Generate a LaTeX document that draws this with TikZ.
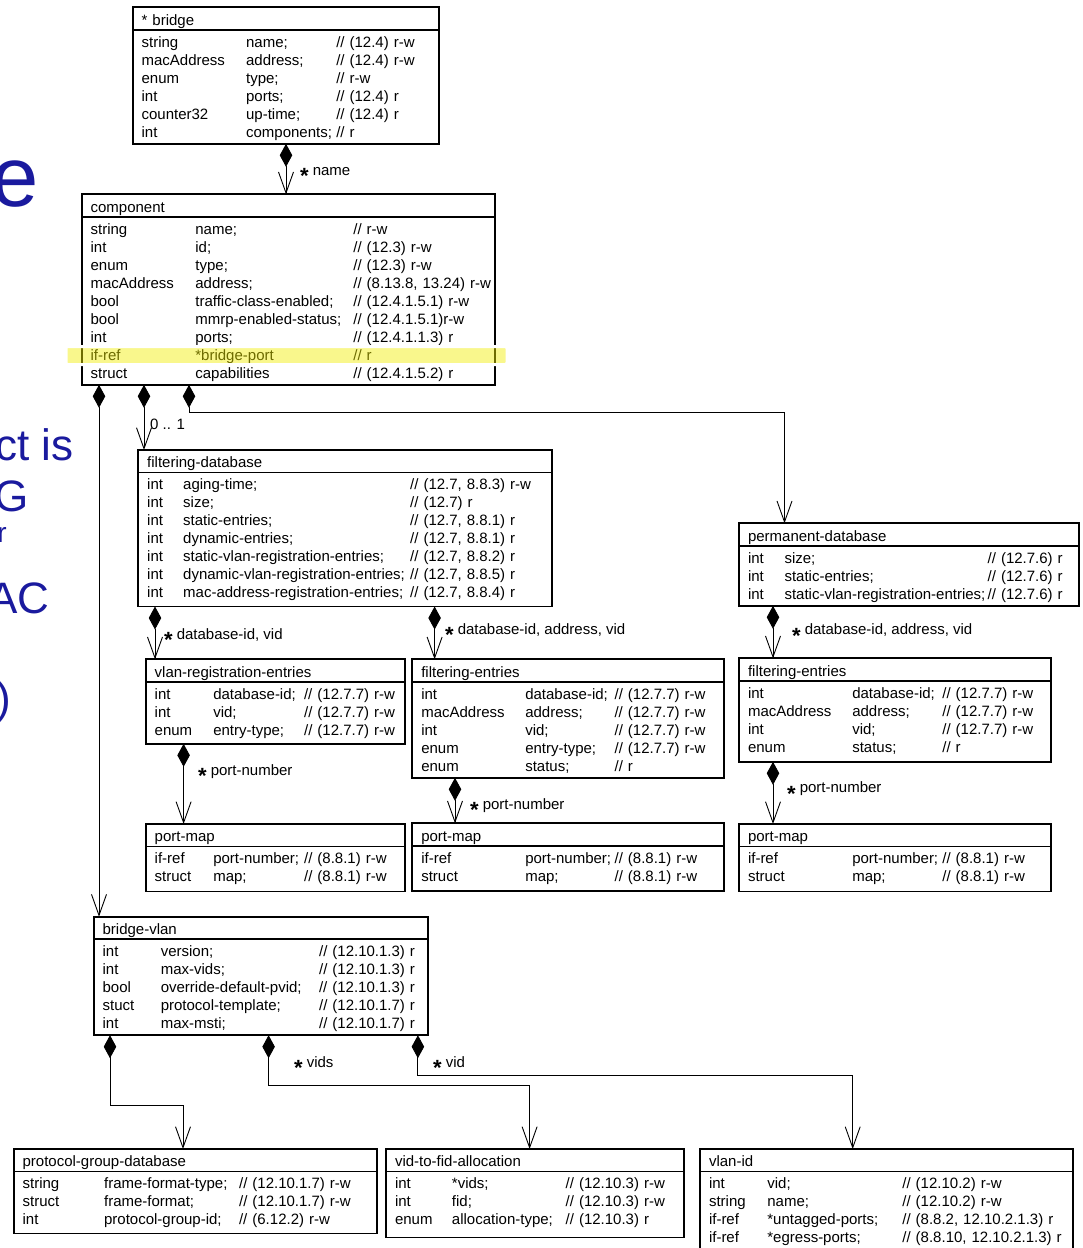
\documentclass[tikz,border=0pt]{standalone}
\usepackage{fontspec}
\setmainfont{Liberation Sans}
\usepackage{array}
\usetikzlibrary{arrows.meta, positioning}
\definecolor{slideblue}{HTML}{1A1A9E}
\definecolor{hlyellow}{HTML}{F2EE00}
\newcommand{\fieldtab}[3]{{\hyphenpenalty=10000\exhyphenpenalty=10000%
  \begin{tabular}[t]{@{}p{#1}@{}p{#2}@{}l@{}}#3\end{tabular}}}
\newcommand{\st}{\raisebox{-8.8pt}{\fontsize{22}{22}\selectfont\bfseries *}\hspace{4pt}}
\tikzset{
  hdr/.style   ={rectangle, draw, fill=white, line width=1.8pt, outer sep=0pt,
                 anchor=north west, minimum height=22.5pt, inner xsep=9pt, inner ysep=0pt,
                 text height=14pt, text depth=0.6pt, align=left, font=\fontsize{15}{18}\selectfont},
  body/.style  ={rectangle, draw, fill=white, line width=1.8pt, outer sep=0pt,
                 inner xsep=9pt, inner ysep=1.3pt, text height=16pt,
                 align=left, font=\fontsize{15}{18}\selectfont},
  comp/.style  ={{Diamond[length=23pt,width=12.5pt]}-{Straight Barb[length=21pt,width=15pt]},
                 line width=0.9pt},
  lbl/.style   ={anchor=base west, inner sep=0pt, font=\fontsize{15}{18}\selectfont},
  slide/.style ={anchor=base east, inner sep=0pt, text=slideblue, font=\fontsize{44}{48}\selectfont},
  hilite/.style={draw=white, line width=3pt, fill=hlyellow, fill opacity=0.45, rounded corners=2pt},
}
\begin{document}
\begin{tikzpicture}[x=1pt, y=-1pt]
  \fill[white] (0,0) rectangle (1083,1248);
  \useasboundingbox (0,0) rectangle (1083,1248);

  \node[slide, font=\fontsize{85}{90}\selectfont] (ttl) at (39,206.5) {e};
  \node[slide] (s1) at (73.5,460) {ct is};
  \node[slide] (s2) at (28.5,511.5) {G};
  \node[slide, font=\fontsize{28}{30}\selectfont] (s3) at (7,542) {r};
  \node[slide] (s4) at (49.5,613.3) {AC};
  \node[slide] (s5) at (11,713) {)};

  \node[hdr, text width=288.4pt] (brh) at (132.6,7.3) {* bridge};
  \node[body, text width=288.4pt, below=0pt of brh] (brb) {\fieldtab{104.5pt}{90.2pt}{%
    string & name; & // (12.4) r-w\\
    macAddress & address; & // (12.4) r-w\\
    enum & type; & // r-w\\
    int & ports; & // (12.4) r\\
    counter32 & up-time; & // (12.4) r\\
    int & components; & // r}};

  \node[hdr, text width=395.6pt] (cmh) at (81.6,194.3) {component};
  \node[body, text width=395.6pt, below=0pt of cmh] (cmb) {\fieldtab{104.8pt}{158pt}{%
    string & name; & // r-w\\
    int & id; & // (12.3) r-w\\
    enum & type; & // (12.3) r-w\\
    macAddress & address; & // (8.13.8, 13.24) r-w\\
    bool & traffic-class-enabled; & // (12.4.1.5.1) r-w\\
    bool & mmrp-enabled-status; & // (12.4.1.5.1)r-w\\
    int & ports; & // (12.4.1.1.3) r\\
    if-ref & *bridge-port & // r\\
    struct & capabilities & // (12.4.1.5.2) r}};

  \node[hdr, text width=395.8pt] (fdh) at (138.2,450) {filtering-database};
  \node[body, text width=395.8pt, below=0pt of fdh] (fdb) {\fieldtab{36pt}{227pt}{%
    int & aging-time; & // (12.7, 8.8.3) r-w\\
    int & size; & // (12.7) r\\
    int & static-entries; & // (12.7, 8.8.1) r\\
    int & dynamic-entries; & // (12.7, 8.8.1) r\\
    int & static-vlan-registration-entries; & // (12.7, 8.8.2) r\\
    int & dynamic-vlan-registration-entries; & // (12.7, 8.8.5) r\\
    int & mac-address-registration-entries; & // (12.7, 8.8.4) r\\[2pt]}};

  \node[hdr, text width=322pt] (pdh) at (739,523.3) {permanent-database};
  \node[body, text width=322pt, below=0pt of pdh] (pdb) {\fieldtab{36.5pt}{203.2pt}{%
    int & size; & // (12.7.6) r\\
    int & static-entries; & // (12.7.6) r\\
    int & static-vlan-registration-entries; & // (12.7.6) r}};

  \node[hdr, text width=241pt] (vrh) at (145.7,659.3) {vlan-registration-entries};
  \node[body, text width=241pt, below=0pt of vrh] (vrb) {\fieldtab{58.6pt}{90.8pt}{%
    int & database-id; & // (12.7.7) r-w\\
    int & vid; & // (12.7.7) r-w\\
    enum & entry-type; & // (12.7.7) r-w\\[2pt]}};

  \node[hdr, text width=293.7pt] (femh) at (412.3,659.3) {filtering-entries};
  \node[body, text width=293.7pt, below=0pt of femh] (femb) {\fieldtab{104pt}{89.3pt}{%
    int & database-id; & // (12.7.7) r-w\\
    macAddress & address; & // (12.7.7) r-w\\
    int & vid; & // (12.7.7) r-w\\
    enum & entry-type; & // (12.7.7) r-w\\
    enum & status; & // r}};

  \node[hdr, text width=294pt] (ferh) at (739,658.3) {filtering-entries};
  \node[body, text width=294pt, below=0pt of ferh] (ferb) {\fieldtab{104.3pt}{90.1pt}{%
    int & database-id; & // (12.7.7) r-w\\
    macAddress & address; & // (12.7.7) r-w\\
    int & vid; & // (12.7.7) r-w\\
    enum & status; & // r\\[3pt]}};

  \node[hdr, text width=241pt] (pmlh) at (145.7,824) {port-map};
  \node[body, text width=241pt, below=0pt of pmlh] (pmlb) {\fieldtab{58.6pt}{90.8pt}{%
    if-ref & port-number; & // (8.8.1) r-w\\
    struct & map; & // (8.8.1) r-w\\[3pt]}};

  \node[hdr, text width=293.7pt] (pmmh) at (412.3,823.3) {port-map};
  \node[body, text width=293.7pt, below=0pt of pmmh] (pmmb) {\fieldtab{104pt}{89.3pt}{%
    if-ref & port-number; & // (8.8.1) r-w\\
    struct & map; & // (8.8.1) r-w\\[3pt]}};

  \node[hdr, text width=294pt] (pmrh) at (739,824) {port-map};
  \node[body, text width=294pt, below=0pt of pmrh] (pmrb) {\fieldtab{104.3pt}{90.1pt}{%
    if-ref & port-number; & // (8.8.1) r-w\\
    struct & map; & // (8.8.1) r-w\\[3pt]}};

  \node[hdr, text width=316pt] (bvh) at (93.6,916.7) {bridge-vlan};
  \node[body, text width=316pt, below=0pt of bvh] (bvb) {\fieldtab{58.2pt}{158.3pt}{%
    int & version; & // (12.10.1.3) r\\
    int & max-vids; & // (12.10.1.3) r\\
    bool & override-default-pvid; & // (12.10.1.3) r\\
    stuct & protocol-template; & // (12.10.1.7) r\\
    int & max-msti; & // (12.10.1.7) r}};

  \node[hdr, text width=345.2pt] (pgh) at (13.6,1149) {protocol-group-database};
  \node[body, text width=345.2pt, below=0pt of pgh] (pgb) {\fieldtab{81.5pt}{135pt}{%
    string & frame-format-type; & // (12.10.1.7) r-w\\
    struct & frame-format; & // (12.10.1.7) r-w\\
    int & protocol-group-id; & // (6.12.2) r-w\\[2pt]}};

  \node[hdr, text width=279.7pt] (vfh) at (386,1149) {vid-to-fid-allocation};
  \node[body, text width=279.7pt, below=0pt of vfh] (vfb) {\fieldtab{57pt}{113.7pt}{%
    int & *vids; & // (12.10.3) r-w\\
    int & fid; & // (12.10.3) r-w\\
    enum & allocation-type; & // (12.10.3) r\\[6pt]}};

  \node[hdr, text width=355pt] (vih) at (700,1149) {vlan-id};
  \node[body, text width=355pt, below=0pt of vih] (vib) {\fieldtab{58.4pt}{135pt}{%
    int & vid; & // (12.10.2) r-w\\
    string & name; & // (12.10.2) r-w\\
    if-ref & *untagged-ports; & // (8.8.2, 12.10.2.1.3) r\\
    if-ref & *egress-ports; & // (8.8.10, 12.10.2.1.3) r}};

  \coordinate (c1) at ([xshift=153.4pt]brb.south west);
  \coordinate (c2) at ([xshift=17.4pt]cmb.south west);
  \coordinate (c3) at ([xshift=62.4pt]cmb.south west);
  \coordinate (c4) at ([xshift=107.4pt]cmb.south west);
  \coordinate (t4) at ([xshift=45.5pt]pdh.north west);
  \coordinate (c5) at ([xshift=16.8pt]fdb.south west);
  \coordinate (c6) at ([xshift=296.4pt]fdb.south west);
  \coordinate (c7) at ([xshift=34pt]pdb.south west);
  \coordinate (c8) at ([xshift=37.9pt]vrb.south west);
  \coordinate (c9) at ([xshift=42.7pt]femb.south west);
  \coordinate (c10) at ([xshift=34pt]ferb.south west);
  \coordinate (c11) at ([xshift=16.4pt]bvb.south west);
  \coordinate (t11) at ([xshift=169.4pt]pgh.north west);
  \coordinate (c12) at ([xshift=175pt]bvb.south west);
  \coordinate (t12) at ([xshift=143.6pt]vfh.north west);
  \coordinate (c13) at ([xshift=324.3pt]bvb.south west);
  \coordinate (t13) at ([xshift=152.7pt]vih.north west);

  \draw[comp] (c1) -- (c1 |- cmh.north);
  \draw[comp] (c2) -- (c2 |- bvh.north);
  \draw[comp] (c3) -- (c3 |- fdh.north);
  \draw[comp] (c4) -- ++(0,27.3) -| (t4);
  \draw[comp] (c5) -- (c5 |- vrh.north);
  \draw[comp] (c6) -- (c6 |- femh.north);
  \draw[comp] (c7) -- (c7 |- ferh.north);
  \draw[comp] (c8) -- (c8 |- pmlh.north);
  \draw[comp] (c9) -- (c9 |- pmmh.north);
  \draw[comp] (c10) -- (c10 |- pmrh.north);
  \draw[comp] (c11) -- ++(0,70.3) -| (t11);
  \draw[comp] (c12) -- ++(0,50.3) -| (t12);
  \draw[comp] (c13) -- ++(0,39.8) -| (t13);

  \node[lbl] (lname) at (300,175) {\st name};
  \node[lbl] (lopt) at (150,429) {0 .. 1};
  \node[lbl] (lvr) at (164,639) {\st database-id, vid};
  \node[lbl] (lfem) at (445,634) {\st database-id, address, vid};
  \node[lbl] (lfer) at (792,634.5) {\st database-id, address, vid};
  \node[lbl] (lpml) at (198,775) {\st port-number};
  \node[lbl] (lpmm) at (470,809) {\st port-number};
  \node[lbl] (lpmr) at (787,792.5) {\st port-number};
  \node[lbl] (lvids) at (294,1067) {\st vids};
  \node[lbl] (lvid) at (433,1067) {\st vid};

  \draw[hilite] (66,346.5) rectangle (507,364.5);
\end{tikzpicture}
\end{document}
